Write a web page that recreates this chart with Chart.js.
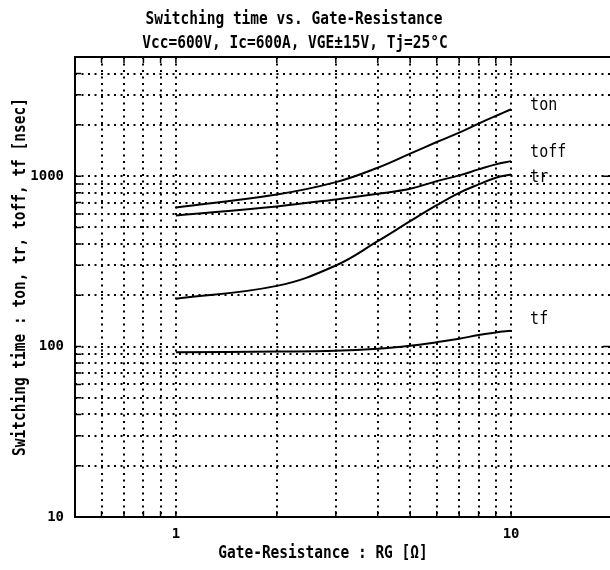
<!DOCTYPE html>
<html>
<head>
<meta charset="utf-8">
<script src="https://cdn.jsdelivr.net/npm/chart.js@4/dist/chart.umd.min.js"></script>
<style>
  html, body { margin: 0; padding: 0; background: #fff; overflow: hidden; }
  #wrap { width: 612px; height: 570px; }
</style>
</head>
<body>
<div id="wrap"><canvas id="swChart"></canvas></div>
<script>
// Gate resistance RG [ohm]
const rg = [1, 2, 3, 4, 5, 6, 7, 8, 9, 10];
// switching times [nsec]
const ton  = [655, 780, 922, 1120, 1355, 1585, 1800, 2033, 2254, 2467];
const toff = [587, 664, 730, 788, 843, 935, 1010, 1095, 1172, 1225];
const tr   = [191, 227, 299, 415, 544, 675, 798, 894, 979, 1023];
const tf   = [92.7, 93.5, 94.4, 97, 101, 106, 111, 117, 121, 124];
const seriesNames = ['ton', 'toff', 'tr', 'tf'];

const xTicks = [0.6, 0.7, 0.8, 0.9, 1, 2, 3, 4, 5, 6, 7, 8, 9, 10];
const yTicks = [10, 20, 30, 40, 50, 60, 70, 80, 90, 100, 200, 300, 400, 500, 600, 700, 800, 900,
                1000, 2000, 3000, 4000];
const xLabels = [1, 10];
const yLabels = [10, 100, 1000];

const titleLines = ['Switching time vs. Gate-Resistance', 'Vcc=600V, Ic=600A, VGE\u00b115V, Tj=25\u00b0C'];
const xTitle = 'Gate-Resistance : RG [\u03a9]';
const yTitle = 'Switching time : ton, tr, toff, tf [nsec]';

const FONT = '"DejaVu Sans Mono", monospace';

const toPts = arr => arr.map((v, i) => ({ x: rg[i], y: v }));

function line(data) {
    return {
        data: toPts(data),
        borderColor: '#000',
        borderWidth: 2,
        pointRadius: 0,
        fill: false,
        tension: 0.4
    };
}

// text stretched a bit taller, like the condensed gothic of the original
function tallText(ctx, text, x, y, rot) {
    ctx.save();
    ctx.translate(x, y);
    if (rot) ctx.rotate(rot);
    ctx.scale(1, 1.2);
    ctx.fillText(text, 0, 0);
    ctx.restore();
}

// frame, inward ticks, series labels and titles
const decorPlugin = {
    id: 'decor',
    afterDraw(chart) {
        const { ctx, chartArea: a, scales: { x, y } } = chart;
        ctx.save();
        ctx.strokeStyle = '#000';
        ctx.lineWidth = 2;
        ctx.strokeRect(a.left, a.top, a.right - a.left, a.bottom - a.top);

        ctx.lineWidth = 1.5;
        ctx.beginPath();
        x.ticks.forEach(t => {
            const px = x.getPixelForValue(t.value);
            ctx.moveTo(px, a.bottom); ctx.lineTo(px, a.bottom - 6);
            ctx.moveTo(px, a.top); ctx.lineTo(px, a.top + 6);
        });
        y.ticks.forEach(t => {
            const py = y.getPixelForValue(t.value);
            ctx.moveTo(a.left, py); ctx.lineTo(a.left + 6, py);
            if (yLabels.includes(t.value)) {
                ctx.moveTo(a.right, py); ctx.lineTo(a.right - 9, py);
            }
        });
        ctx.stroke();

        // series names next to line ends
        const nudge = [-4, -9, 3, -11];
        ctx.fillStyle = '#000';
        ctx.font = '15px ' + FONT;
        ctx.textBaseline = 'middle';
        ctx.textAlign = 'left';
        chart.data.datasets.forEach((ds, i) => {
            const last = ds.data[ds.data.length - 1];
            tallText(ctx, seriesNames[i], x.getPixelForValue(last.x) + 19, y.getPixelForValue(last.y) + nudge[i]);
        });

        // titles
        ctx.font = 'bold 14.5px ' + FONT;
        ctx.textAlign = 'center';
        tallText(ctx, titleLines[0], 294, 19);
        tallText(ctx, titleLines[1], 295, 43);
        tallText(ctx, xTitle, 323, 553);
        tallText(ctx, yTitle, 20, 277, -Math.PI / 2);
        ctx.restore();
    }
};

new Chart(document.getElementById('swChart').getContext('2d'), {
    type: 'line',
    data: {
        datasets: [line(ton), line(toff), line(tr), line(tf)]
    },
    options: {
        responsive: true,
        maintainAspectRatio: false,
        animation: false,
        layout: { padding: { top: 57, right: 0, left: 0, bottom: 0 } },
        plugins: {
            legend: { display: false },
            tooltip: { enabled: false }
        },
        scales: {
            x: {
                type: 'logarithmic',
                min: 0.5,
                max: 20,
                afterBuildTicks: s => { s.ticks = xTicks.map(v => ({ value: v })); },
                afterFit: s => { s.height = 53; },
                grid: { color: '#000', lineWidth: 2, drawTicks: false },
                border: { display: false, dash: [2, 4.5] },
                ticks: {
                    autoSkip: false,
                    maxRotation: 0,
                    padding: 9,
                    color: '#000',
                    font: { family: FONT, size: 14, weight: 'bold' },
                    callback: v => xLabels.includes(v) ? String(v) : ''
                }
            },
            y: {
                type: 'logarithmic',
                min: 10,
                max: 5000,
                afterBuildTicks: s => { s.ticks = yTicks.map(v => ({ value: v })); },
                afterFit: s => { s.width = 75; },
                grid: { color: '#000', lineWidth: 2, drawTicks: false },
                border: { display: false, dash: [2, 4.5] },
                ticks: {
                    autoSkip: false,
                    padding: 11,
                    color: '#000',
                    font: { family: FONT, size: 14, weight: 'bold' },
                    callback: v => yLabels.includes(v) ? String(v) : ''
                }
            }
        }
    },
    plugins: [decorPlugin]
});
</script>
</body>
</html>
